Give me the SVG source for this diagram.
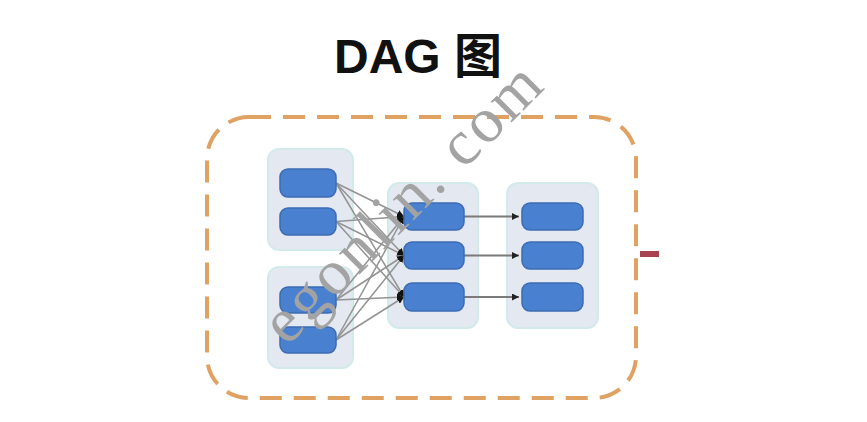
<svg xmlns="http://www.w3.org/2000/svg" width="867" height="422" viewBox="0 0 867 422">
<defs>
<style>
.grp{fill:#e4e9f1;stroke:#d2eaea;stroke-width:2}
.node{fill:#4a80d0;stroke:#3c6bb2;stroke-width:1.5}
.e1{stroke:#939393;stroke-width:1.5;fill:none;marker-end:url(#ah)}
.e2{stroke:#7a7a7a;stroke-width:2;fill:none;marker-end:url(#ah2)}
.title{font-family:"Liberation Sans","Noto Sans CJK SC",sans-serif;font-weight:bold;font-size:48px;fill:#111}
.wm{font-family:"Liberation Serif","DejaVu Serif",serif;font-size:64px;fill:#a3a3a3}
</style>
<marker id="ah" viewBox="0 0 10 10" refX="10" refY="5" markerWidth="7" markerHeight="7" markerUnits="userSpaceOnUse" orient="auto">
<path d="M0,0 L10,5 L0,10 z" fill="#111"/>
</marker>
<marker id="ah2" viewBox="0 0 10 10" refX="10" refY="5" markerWidth="7" markerHeight="7" markerUnits="userSpaceOnUse" orient="auto">
<path d="M0,0 L10,5 L0,10 z" fill="#222"/>
</marker>
</defs>
<rect width="867" height="422" fill="#ffffff"/>
<text class="title" x="334" y="73">DAG 图</text>
<rect id="frame" x="207" y="117" width="429" height="281" rx="42" fill="none" stroke="#dfa263" stroke-width="4" stroke-dasharray="22 12"/>
<rect id="redbar" x="640" y="251" width="19" height="6" fill="#a8424f"/>
<g id="group1"><rect class="grp" x="268" y="149" width="85" height="101" rx="11"/></g>
<g id="group2"><rect class="grp" x="268" y="267" width="85" height="101" rx="11"/></g>
<g id="group3"><rect class="grp" x="388" y="183" width="90" height="145" rx="11"/></g>
<g id="group4"><rect class="grp" x="507" y="183" width="91" height="145" rx="11"/></g>
<g id="connectors">
<path class="e1" d="M336,183 L404,216.5"/>
<path class="e1" d="M336,183 L404,255.5"/>
<path class="e1" d="M336,183 L404,297"/>
<path class="e1" d="M336,221.5 L404,216.5"/>
<path class="e1" d="M336,221.5 L404,255.5"/>
<path class="e1" d="M336,221.5 L404,297"/>
<path class="e1" d="M336,300 L404,216.5"/>
<path class="e1" d="M336,300 L404,255.5"/>
<path class="e1" d="M336,300 L404,297"/>
<path class="e1" d="M336,340 L404,216.5"/>
<path class="e1" d="M336,340 L404,255.5"/>
<path class="e1" d="M336,340 L404,297"/>
<path class="e2" d="M464,216.5 L519,216.5"/>
<path class="e2" d="M464,255.5 L519,255.5"/>
<path class="e2" d="M464,297 L519,297"/>
</g>
<g id="n1"><rect class="node" x="280" y="169" width="56" height="28" rx="8"/></g>
<g id="n2"><rect class="node" x="280" y="208" width="56" height="27" rx="8"/></g>
<g id="n3"><rect class="node" x="280" y="287" width="56" height="26" rx="8"/></g>
<g id="n4"><rect class="node" x="280" y="327" width="56" height="26" rx="8"/></g>
<g id="m1"><rect class="node" x="404" y="203" width="60" height="27" rx="8"/></g>
<g id="m2"><rect class="node" x="404" y="242" width="60" height="27" rx="8"/></g>
<g id="m3"><rect class="node" x="404" y="283" width="60" height="28" rx="8"/></g>
<g id="r1"><rect class="node" x="522" y="203" width="61" height="27" rx="8"/></g>
<g id="r2"><rect class="node" x="522" y="242" width="61" height="27" rx="8"/></g>
<g id="r3"><rect class="node" x="522" y="283" width="61" height="28" rx="8"/></g>
<text class="wm" x="0" y="0" transform="translate(287,347) rotate(-45)" textLength="366" lengthAdjust="spacing">egonlin. com</text>
</svg>
